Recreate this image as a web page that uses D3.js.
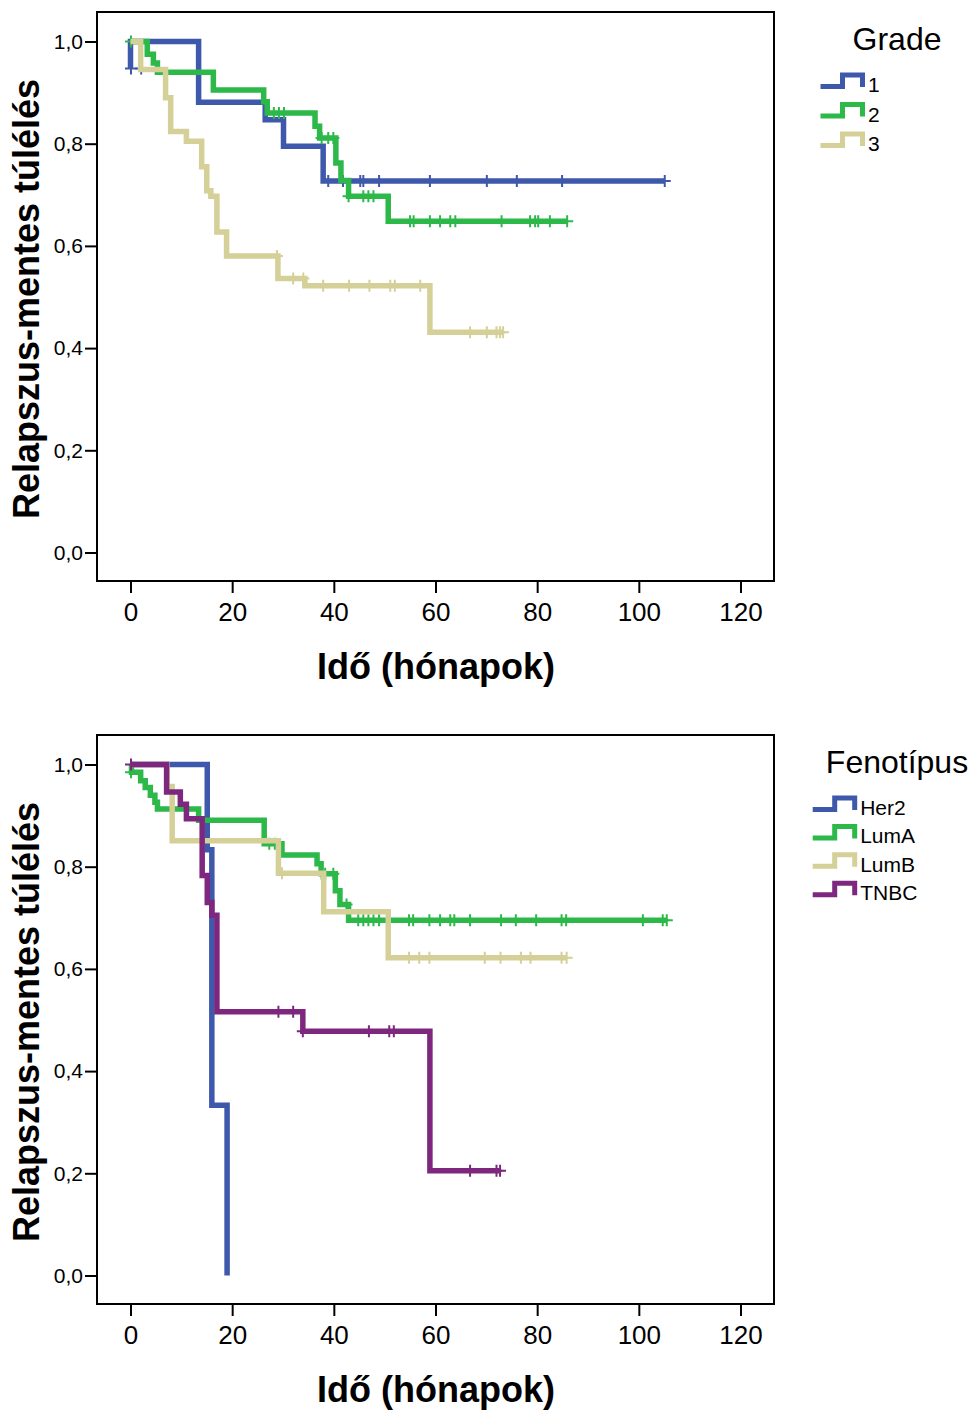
<!DOCTYPE html>
<html>
<head>
<meta charset="utf-8">
<script src="https://cdn.jsdelivr.net/npm/d3@7"></script>
<style>
  body { margin: 0; background: #fff; }
  svg text { font-family: "Liberation Sans", Arial, sans-serif; fill: #000; }
</style>
</head>
<body>
<svg id="chart" width="977" height="1410"></svg>
<script>
// axis ticks
const xTicks = [0, 20, 40, 60, 80, 100, 120]
const yTicks = [0, 0.2, 0.4, 0.6, 0.8, 1.0]
const xTitle = "Idő (hónapok)"
const yTitle = "Relapszus-mentes túlélés"

// ---- panel 1 : Grade ----
const gradeTitle = "Grade"
const gradeNames = ["1", "2", "3"]
// [time, survival after the step]
const grade1Steps = [[0, 0.947], [0, 1], [13.4, 0.881], [26.5, 0.847], [30.1, 0.795], [37.9, 0.727]]
const grade1End = 105.1
const grade1Censor = [[0.1, 0.947], [2.1, 0.947], [38.9, 0.727], [41.8, 0.727], [45.2, 0.727], [45.8, 0.727], [48.9, 0.727],
  [58.9, 0.727], [70.1, 0.727], [76.0, 0.727], [84.9, 0.727], [105.1, 0.727]]
const grade2Steps = [[0, 1], [3.3, 0.975], [4.5, 0.958], [5.3, 0.940], [16.3, 0.905], [26.2, 0.882], [26.9, 0.860],
  [36.3, 0.834], [37.2, 0.811], [40.4, 0.762], [41.4, 0.728], [42.9, 0.697], [50.7, 0.648]]
const grade2End = 85.9
const grade2Censor = [[0.1, 1], [28.2, 0.86], [29.2, 0.86], [30.2, 0.86], [37.6, 0.811], [38.9, 0.811], [39.9, 0.811],
  [42.9, 0.697], [45.8, 0.697], [46.8, 0.697], [47.8, 0.697], [55.0, 0.648], [55.7, 0.648], [58.9, 0.648], [60.9, 0.648],
  [62.9, 0.648], [63.9, 0.648], [73.0, 0.648], [78.6, 0.648], [79.6, 0.648], [80.2, 0.648], [82.5, 0.648], [85.9, 0.648]]
const grade3Steps = [[0, 1], [2.0, 0.945], [6.9, 0.890], [7.9, 0.824], [11.0, 0.805], [14.0, 0.755], [15.0, 0.708],
  [15.8, 0.697], [17.0, 0.627], [18.9, 0.580], [29.0, 0.536], [34.3, 0.522], [58.9, 0.431]]
const grade3End = 73.3
const grade3Censor = [[28.8, 0.58], [32.0, 0.536], [34.0, 0.536], [37.9, 0.522], [43.0, 0.522], [47.0, 0.522], [51.1, 0.522],
  [52.0, 0.522], [57.0, 0.522], [66.8, 0.431], [70.1, 0.431], [72.0, 0.431], [72.7, 0.431], [73.3, 0.431]]

// ---- panel 2 : Fenotípus ----
const phenoTitle = "Fenotípus"
const phenoNames = ["Her2", "LumA", "LumB", "TNBC"]
const her2Steps = [[0, 1], [15.1, 0.833], [16.0, 0.333], [19.0, 0]]
const her2End = 19.0
const her2Censor = []
const lumASteps = [[0, 1], [0.2, 0.985], [2.0, 0.968], [2.9, 0.955], [3.9, 0.940], [4.8, 0.926], [5.3, 0.913], [13.4, 0.891],
  [26.3, 0.845], [29.8, 0.823], [36.7, 0.806], [37.5, 0.786], [40.3, 0.753], [41.2, 0.726], [42.9, 0.695]]
const lumAEnd = 105.5
const lumACensor = [[0.1, 0.985], [27.3, 0.845], [28.4, 0.845], [37.6, 0.786], [38.3, 0.786], [39.9, 0.786], [42.5, 0.726],
  [44.8, 0.695], [45.8, 0.695], [46.8, 0.695], [47.8, 0.695], [48.9, 0.695], [54.8, 0.695], [55.6, 0.695], [58.8, 0.695],
  [60.9, 0.695], [62.9, 0.695], [63.7, 0.695], [66.8, 0.695], [72.9, 0.695], [75.8, 0.695], [79.8, 0.695], [84.8, 0.695],
  [85.7, 0.695], [100.8, 0.695], [104.7, 0.695], [105.5, 0.695]]
const lumBSteps = [[0, 1], [7.2, 0.957], [8.2, 0.851], [29.1, 0.787], [38.0, 0.712], [50.7, 0.622]]
const lumBEnd = 85.8
const lumBCensor = [[29.8, 0.787], [54.8, 0.622], [56.8, 0.622], [58.8, 0.622], [69.7, 0.622], [72.8, 0.622], [76.8, 0.622],
  [78.7, 0.622], [84.8, 0.622], [85.8, 0.622]]
const tnbcSteps = [[0, 1], [7.1, 0.946], [9.8, 0.922], [11.0, 0.894], [14.1, 0.783], [15.1, 0.730], [16.0, 0.705],
  [17.0, 0.516], [33.9, 0.478], [58.9, 0.205]]
const tnbcEnd = 72.7
const tnbcCensor = [[0.1, 1], [29.1, 0.516], [32.0, 0.516], [33.9, 0.478], [46.9, 0.478], [50.9, 0.478], [51.8, 0.478],
  [66.8, 0.205], [72.0, 0.205], [72.7, 0.205]]

const svg = d3.select("#chart")
const fmt = d => d3.format(".1f")(d).replace(".", ",")

function drawPanel(top, title, names, steps, ends, censors, colors, legendLeft, legendStep) {
  const g = svg.append("g").attr("transform", "translate(0," + top + ")")
  const x = d3.scaleLinear().domain([0, 120]).range([130.5, 740.5])
  const y = d3.scaleLinear().domain([0, 1]).range([540.5, 29.5])

  g.append("rect").attr("x", 97).attr("y", 0).attr("width", 677).attr("height", 569)
    .attr("fill", "none").attr("stroke", "#000").attr("stroke-width", 2)

  const yAx = g.append("g").attr("transform", "translate(97,0)")
    .call(d3.axisLeft(y).tickValues(yTicks).tickFormat(fmt).tickSize(12).tickPadding(2))
  yAx.selectAll("text").attr("font-size", 21)
  const xAx = g.append("g").attr("transform", "translate(0,569)")
    .call(d3.axisBottom(x).tickValues(xTicks).tickSize(12).tickPadding(10))
  xAx.selectAll("text").attr("font-size", 26)
  g.selectAll(".domain").remove()
  g.selectAll(".tick line").attr("stroke", "#000").attr("stroke-width", 2)
  g.selectAll(".tick text").attr("font-family", "Liberation Sans, Arial, sans-serif")

  g.append("text").attr("x", 436).attr("y", 667).attr("text-anchor", "middle")
    .attr("font-size", 36).attr("font-weight", "bold").text(xTitle)
  g.append("text").attr("transform", "translate(39,287) rotate(-90)").attr("text-anchor", "middle")
    .attr("font-size", 36).attr("font-weight", "bold").text(yTitle)

  const line = d3.line().curve(d3.curveStepAfter).x(d => x(d[0])).y(d => y(d[1]))
  steps.forEach((s, i) => {
    const last = s[s.length - 1]
    const pts = ends[i] > last[0] ? s.concat([[ends[i], last[1]]]) : s
    g.append("path").attr("d", line(pts)).attr("fill", "none").attr("stroke", colors[i])
      .attr("stroke-width", 5.5).attr("stroke-linejoin", "miter")
    g.selectAll(null).data(censors[i]).join("path")
      .attr("d", d => "M" + x(d[0]) + "," + (y(d[1]) - 6) + "v12M" + (x(d[0]) - 6) + "," + y(d[1]) + "h12")
      .attr("stroke", colors[i]).attr("stroke-width", 2).attr("fill", "none")
  })

  // legend
  g.append("text").attr("x", 897).attr("y", 38).attr("text-anchor", "middle").attr("font-size", 32).text(title)
  names.forEach((n, i) => {
    const b = 80 + i * legendStep
    const L = legendLeft
    g.append("path").attr("d", "M" + L + "," + (b - 5.5) + "H" + (L + 22) + "V" + (b - 17) + "H" + (L + 42) + "V" + (b - 5))
      .attr("fill", "none").attr("stroke", colors[i]).attr("stroke-width", 5)
    g.append("text").attr("x", L + 47.5).attr("y", b).attr("font-size", 21).text(n)
  })
}

const blue = "#3e58ab", green = "#2db84a", tan = "#d5cf98", purple = "#7d287e"

drawPanel(12, gradeTitle, gradeNames,
  [grade1Steps, grade2Steps, grade3Steps], [grade1End, grade2End, grade3End],
  [grade1Censor, grade2Censor, grade3Censor], [blue, green, tan], 820.5, 29.5)

drawPanel(735, phenoTitle, phenoNames,
  [her2Steps, lumASteps, lumBSteps, tnbcSteps], [her2End, lumAEnd, lumBEnd, tnbcEnd],
  [her2Censor, lumACensor, lumBCensor, tnbcCensor], [blue, green, tan, purple], 812.7, 28.4)
</script>
</body>
</html>
